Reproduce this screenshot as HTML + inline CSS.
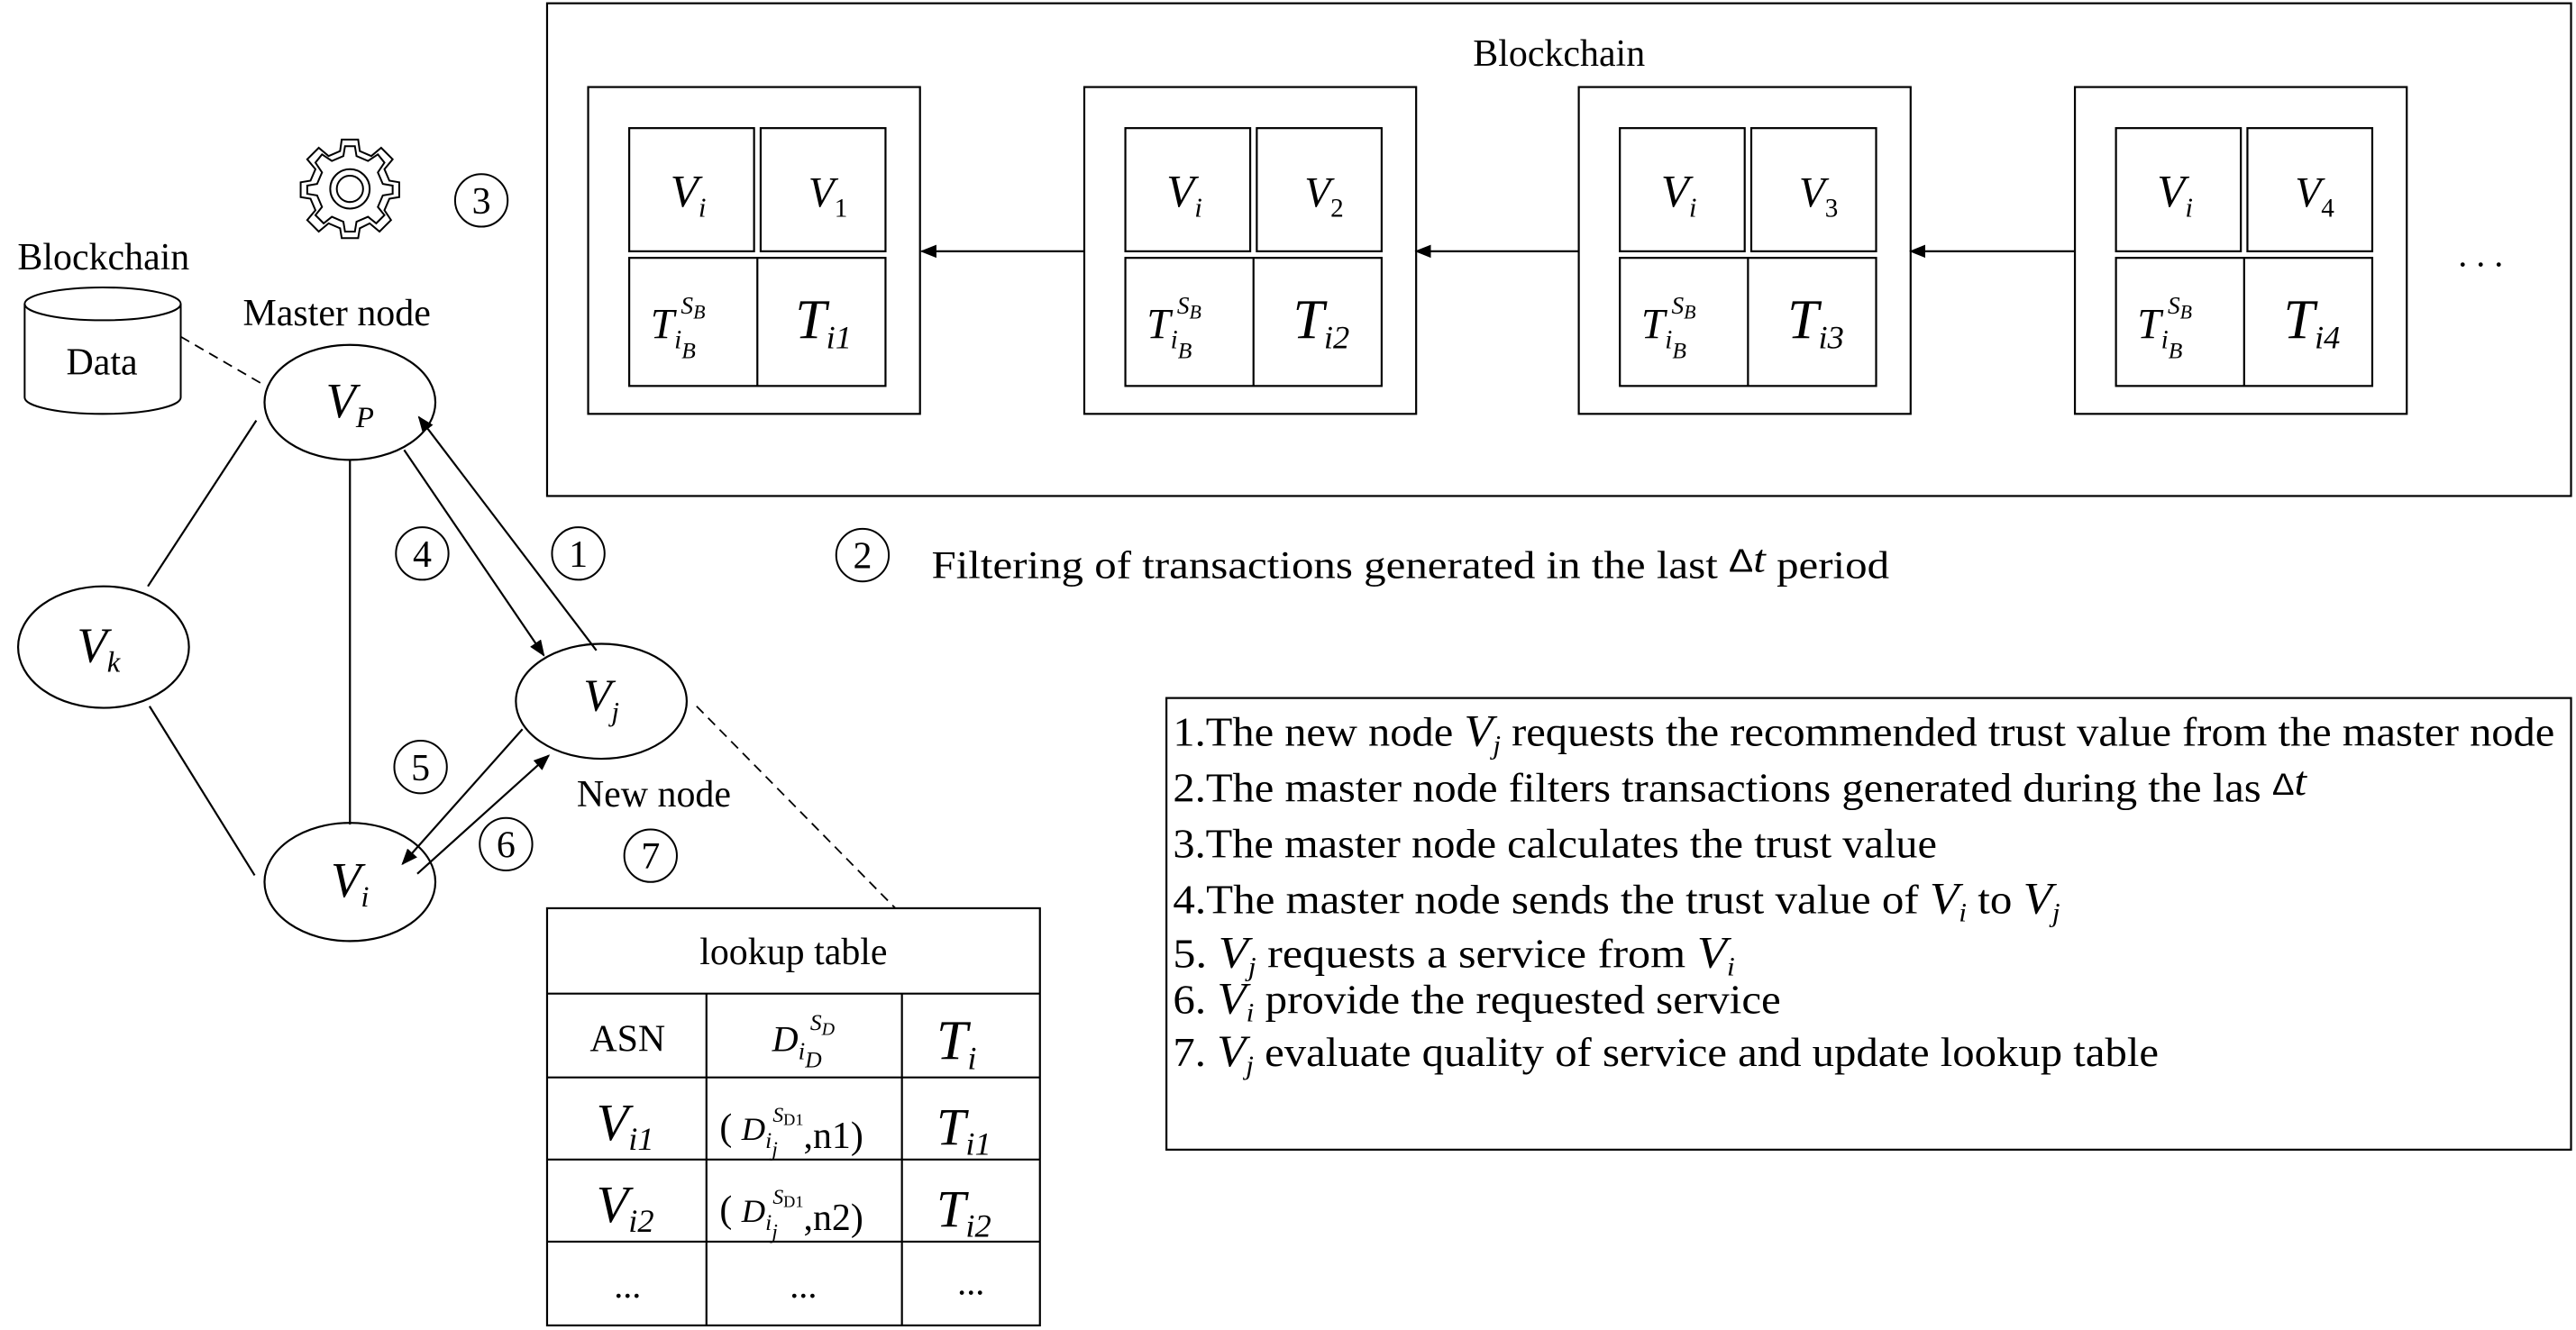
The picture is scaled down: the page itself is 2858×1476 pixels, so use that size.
<!DOCTYPE html>
<html><head><meta charset="utf-8"><style>html,body{margin:0;padding:0;background:#fff}svg{display:block;font-family:"Liberation Serif","Times New Roman",serif}</style></head><body>
<svg width="2858" height="1476" viewBox="0 0 1568 809.8" xmlns="http://www.w3.org/2000/svg" fill="#000">
<defs>
<marker id="ah" markerWidth="10" markerHeight="8" refX="9" refY="4" orient="auto" markerUnits="userSpaceOnUse"><path d="M0,0 L10,4 L0,8 z" fill="#000"/></marker>
<g id="blk">
<rect x="0" y="0" width="202" height="199" fill="none" stroke="#000" stroke-width="1.2"/>
<rect x="25" y="25" width="76" height="75" fill="none" stroke="#000" stroke-width="1.2"/>
<rect x="105" y="25" width="76" height="75" fill="none" stroke="#000" stroke-width="1.2"/>
<rect x="25" y="104" width="156" height="78" fill="none" stroke="#000" stroke-width="1.2"/>
<line x1="103" y1="104" x2="103" y2="182" stroke="#000" stroke-width="1.2"/>
<text x="50" y="73" font-size="28" font-style="italic">V<tspan font-size="17" dy="6">i</tspan></text>
<text x="38" y="153" font-size="26" font-style="italic">T<tspan font-size="16" dy="6">i</tspan><tspan font-size="14" dy="6">B</tspan><tspan font-size="15" dx="-9" dy="-27">S</tspan><tspan font-size="12" dy="3">B</tspan></text>
</g>
</defs>

<rect x="333" y="2" width="1232" height="300" fill="none" stroke="#000" stroke-width="1.2"/>
<text x="949" y="40" font-size="23" text-anchor="middle">Blockchain</text>
<use href="#blk" x="358" y="53"/>
<use href="#blk" x="660" y="53"/>
<use href="#blk" x="961" y="53"/>
<use href="#blk" x="1263" y="53"/>
<text x="492" y="126" font-size="26" font-style="italic">V<tspan font-size="16" dy="6" font-style="normal">1</tspan></text>
<text x="794" y="126" font-size="26" font-style="italic">V<tspan font-size="16" dy="6" font-style="normal">2</tspan></text>
<text x="1095" y="126" font-size="26" font-style="italic">V<tspan font-size="16" dy="6" font-style="normal">3</tspan></text>
<text x="1397" y="126" font-size="26" font-style="italic">V<tspan font-size="16" dy="6" font-style="normal">4</tspan></text>
<text x="484" y="206" font-size="34" font-style="italic">T<tspan font-size="20" dy="6">i1</tspan></text>
<text x="787" y="206" font-size="34" font-style="italic">T<tspan font-size="20" dy="6">i2</tspan></text>
<text x="1088" y="206" font-size="34" font-style="italic">T<tspan font-size="20" dy="6">i3</tspan></text>
<text x="1390" y="206" font-size="34" font-style="italic">T<tspan font-size="20" dy="6">i4</tspan></text>
<g stroke="#000" stroke-width="1.2">
<line x1="660" y1="153" x2="561" y2="153" marker-end="url(#ah)"/>
<line x1="961" y1="153" x2="862" y2="153" marker-end="url(#ah)"/>
<line x1="1263" y1="153" x2="1163" y2="153" marker-end="url(#ah)"/>
</g>
<text x="1510" y="162" font-size="22" text-anchor="middle">. . .</text>

<g transform="translate(213,115)" fill="none" stroke="#000" stroke-width="1.1">
<path d="M-5,-30 L5,-30 L6,-23 L13,-20 L19,-25 L26,-18 L21,-12 L24,-5 L30,-4 L30,5 L24,6 L21,13 L25,19 L18,26 L12,21 L6,24 L5,30 L-5,30 L-6,24 L-13,21 L-19,26 L-26,19 L-21,13 L-24,6 L-30,5 L-30,-4 L-24,-5 L-21,-12 L-26,-18 L-19,-25 L-13,-20 L-6,-23 Z"/>
<path d="M-3,-26 L3,-26 L4,-20 L11,-17 L17,-21 L21,-16 L17,-10 L20,-3 L26,-2 L26,3 L20,4 L17,11 L21,16 L16,21 L11,17 L4,20 L3,26 L-3,26 L-4,20 L-11,17 L-16,21 L-21,16 L-17,11 L-20,4 L-26,3 L-26,-2 L-20,-3 L-17,-10 L-21,-16 L-17,-21 L-11,-17 L-4,-20 Z"/>
<circle r="12"/><circle r="8"/>
</g>

<g fill="none" stroke="#000" stroke-width="1.1">
<circle cx="293" cy="122" r="16"/><circle cx="257" cy="337" r="16"/><circle cx="352" cy="337" r="16"/>
<circle cx="256" cy="467" r="16"/><circle cx="308" cy="514" r="16"/><circle cx="396" cy="521" r="16"/>
<circle cx="525" cy="338" r="16"/>
</g>
<g font-size="23" text-anchor="middle">
<text x="293" y="130">3</text><text x="257" y="345">4</text><text x="352" y="345">1</text>
<text x="256" y="475">5</text><text x="308" y="522">6</text><text x="396" y="529">7</text>
<text x="525" y="346">2</text>
</g>
<text x="567" y="352" font-size="24" textLength="583" lengthAdjust="spacingAndGlyphs">Filtering of transactions generated in the last <tspan font-family="Liberation Sans, sans-serif" font-size="20" dy="-4">Δ</tspan><tspan font-style="italic">t</tspan><tspan dy="4"> period</tspan></text>

<text x="63" y="164" font-size="23" text-anchor="middle">Blockchain</text>
<path d="M15,185 L15,242 A47.5,10 0 0 0 110,242 L110,185" fill="none" stroke="#000" stroke-width="1.1"/>
<ellipse cx="62.5" cy="185" rx="47.5" ry="10" fill="none" stroke="#000" stroke-width="1.1"/>
<text x="62" y="228" font-size="23" text-anchor="middle">Data</text>
<line x1="110" y1="205" x2="160" y2="234" stroke="#000" stroke-width="1" stroke-dasharray="6,4"/>

<text x="205" y="198" font-size="23" text-anchor="middle">Master node</text>
<g fill="none" stroke="#000" stroke-width="1.2">
<ellipse cx="213" cy="245" rx="52" ry="35"/>
<ellipse cx="63" cy="394" rx="52" ry="37"/>
<ellipse cx="366" cy="427" rx="52" ry="35"/>
<ellipse cx="213" cy="537" rx="52" ry="36"/>
<line x1="156" y1="256" x2="90" y2="357"/>
<line x1="91" y1="430" x2="155" y2="533"/>
<line x1="213" y1="280" x2="213" y2="502"/>
<line x1="246" y1="274" x2="331" y2="399" marker-end="url(#ah)"/>
<line x1="363" y1="396" x2="255" y2="254" marker-end="url(#ah)"/>
<line x1="318" y1="444" x2="245" y2="526" marker-end="url(#ah)"/>
<line x1="254" y1="532" x2="334" y2="460" marker-end="url(#ah)"/>
</g>
<text x="213" y="254" font-size="30" font-style="italic" text-anchor="middle">V<tspan font-size="18" dy="6">P</tspan></text>
<text x="60" y="403" font-size="30" font-style="italic" text-anchor="middle">V<tspan font-size="18" dy="6">k</tspan></text>
<text x="366" y="433" font-size="28" font-style="italic" text-anchor="middle">V<tspan font-size="17" dy="6">j</tspan></text>
<text x="213" y="546" font-size="30" font-style="italic" text-anchor="middle">V<tspan font-size="18" dy="6">i</tspan></text>
<text x="398" y="491" font-size="23" text-anchor="middle">New node</text>
<line x1="424" y1="430" x2="545" y2="553" stroke="#000" stroke-width="1" stroke-dasharray="6,4"/>

<g fill="none" stroke="#000" stroke-width="1.2">
<rect x="333" y="553" width="300" height="254"/>
<line x1="333" y1="605" x2="633" y2="605"/><line x1="333" y1="656" x2="633" y2="656"/>
<line x1="333" y1="706" x2="633" y2="706"/><line x1="333" y1="756" x2="633" y2="756"/>
<line x1="430" y1="605" x2="430" y2="807"/><line x1="549" y1="605" x2="549" y2="807"/>
</g>
<text x="483" y="587" font-size="23" text-anchor="middle">lookup table</text>
<text x="382" y="640" font-size="23" text-anchor="middle">ASN</text>
<text x="470" y="640" font-size="22" font-style="italic">D<tspan font-size="15" dy="5">i</tspan><tspan font-size="14" dy="5">D</tspan><tspan font-size="14" dx="-7" dy="-23">S</tspan><tspan font-size="11" dy="3">D</tspan></text>
<text x="570" y="645" font-size="34" font-style="italic">T<tspan font-size="20" dy="6">i</tspan></text>
<text x="363" y="694" font-size="32" font-style="italic">V<tspan font-size="20" dy="6">i1</tspan></text>
<text x="363" y="744" font-size="32" font-style="italic">V<tspan font-size="20" dy="6">i2</tspan></text>
<text x="438" y="694" font-size="23">( <tspan font-style="italic" font-size="20">D</tspan><tspan font-style="italic" font-size="14" dy="5">i</tspan><tspan font-style="italic" font-size="13" dy="5">j</tspan><tspan font-style="italic" font-size="13" dx="-3" dy="-21">S</tspan><tspan font-size="10" dy="2">D1</tspan><tspan dy="14">,n1)</tspan></text>
<text x="438" y="744" font-size="23">( <tspan font-style="italic" font-size="20">D</tspan><tspan font-style="italic" font-size="14" dy="5">i</tspan><tspan font-style="italic" font-size="13" dy="5">j</tspan><tspan font-style="italic" font-size="13" dx="-3" dy="-21">S</tspan><tspan font-size="10" dy="2">D1</tspan><tspan dy="14">,n2)</tspan></text>
<text x="570" y="697" font-size="32" font-style="italic">T<tspan font-size="20" dy="6">i1</tspan></text>
<text x="570" y="747" font-size="32" font-style="italic">T<tspan font-size="20" dy="6">i2</tspan></text>
<g font-size="22" text-anchor="middle"><text x="382" y="790">...</text><text x="489" y="790">...</text><text x="591" y="788">...</text></g>

<rect x="710" y="425" width="855" height="275" fill="none" stroke="#000" stroke-width="1.2"/>
<g font-size="25">
<text x="714" y="454" textLength="841" lengthAdjust="spacingAndGlyphs">1.The new node  <tspan font-style="italic" font-size="27">V</tspan><tspan font-style="italic" font-size="16" dy="5">j</tspan><tspan dy="-5"> requests the recommended trust value from the master node</tspan></text>
<text x="714" y="488" textLength="690" lengthAdjust="spacingAndGlyphs">2.The master node filters transactions generated during the las <tspan font-family="Liberation Sans, sans-serif" font-size="19" dy="-4">Δ</tspan><tspan font-style="italic">t</tspan></text>
<text x="714" y="522" textLength="465" lengthAdjust="spacingAndGlyphs">3.The master node calculates the trust value</text>
<text x="714" y="556" textLength="540" lengthAdjust="spacingAndGlyphs">4.The master node sends the trust value of <tspan font-style="italic" font-size="27">V</tspan><tspan font-style="italic" font-size="16" dy="5">i</tspan><tspan dy="-5"> to </tspan><tspan font-style="italic" font-size="27">V</tspan><tspan font-style="italic" font-size="16" dy="5">j</tspan></text>
<text x="714" y="589" textLength="342" lengthAdjust="spacingAndGlyphs">5. <tspan font-style="italic" font-size="27">V</tspan><tspan font-style="italic" font-size="16" dy="5">j</tspan><tspan dy="-5">  requests a service from  </tspan><tspan font-style="italic" font-size="27">V</tspan><tspan font-style="italic" font-size="16" dy="5">i</tspan></text>
<text x="714" y="617" textLength="370" lengthAdjust="spacingAndGlyphs">6. <tspan font-style="italic" font-size="27">V</tspan><tspan font-style="italic" font-size="16" dy="5">i</tspan><tspan dy="-5"> provide the requested service</tspan></text>
<text x="714" y="649" textLength="600" lengthAdjust="spacingAndGlyphs">7. <tspan font-style="italic" font-size="27">V</tspan><tspan font-style="italic" font-size="16" dy="5">j</tspan><tspan dy="-5">  evaluate quality of service and update lookup table</tspan></text>
</g>
</svg>
</body></html>
